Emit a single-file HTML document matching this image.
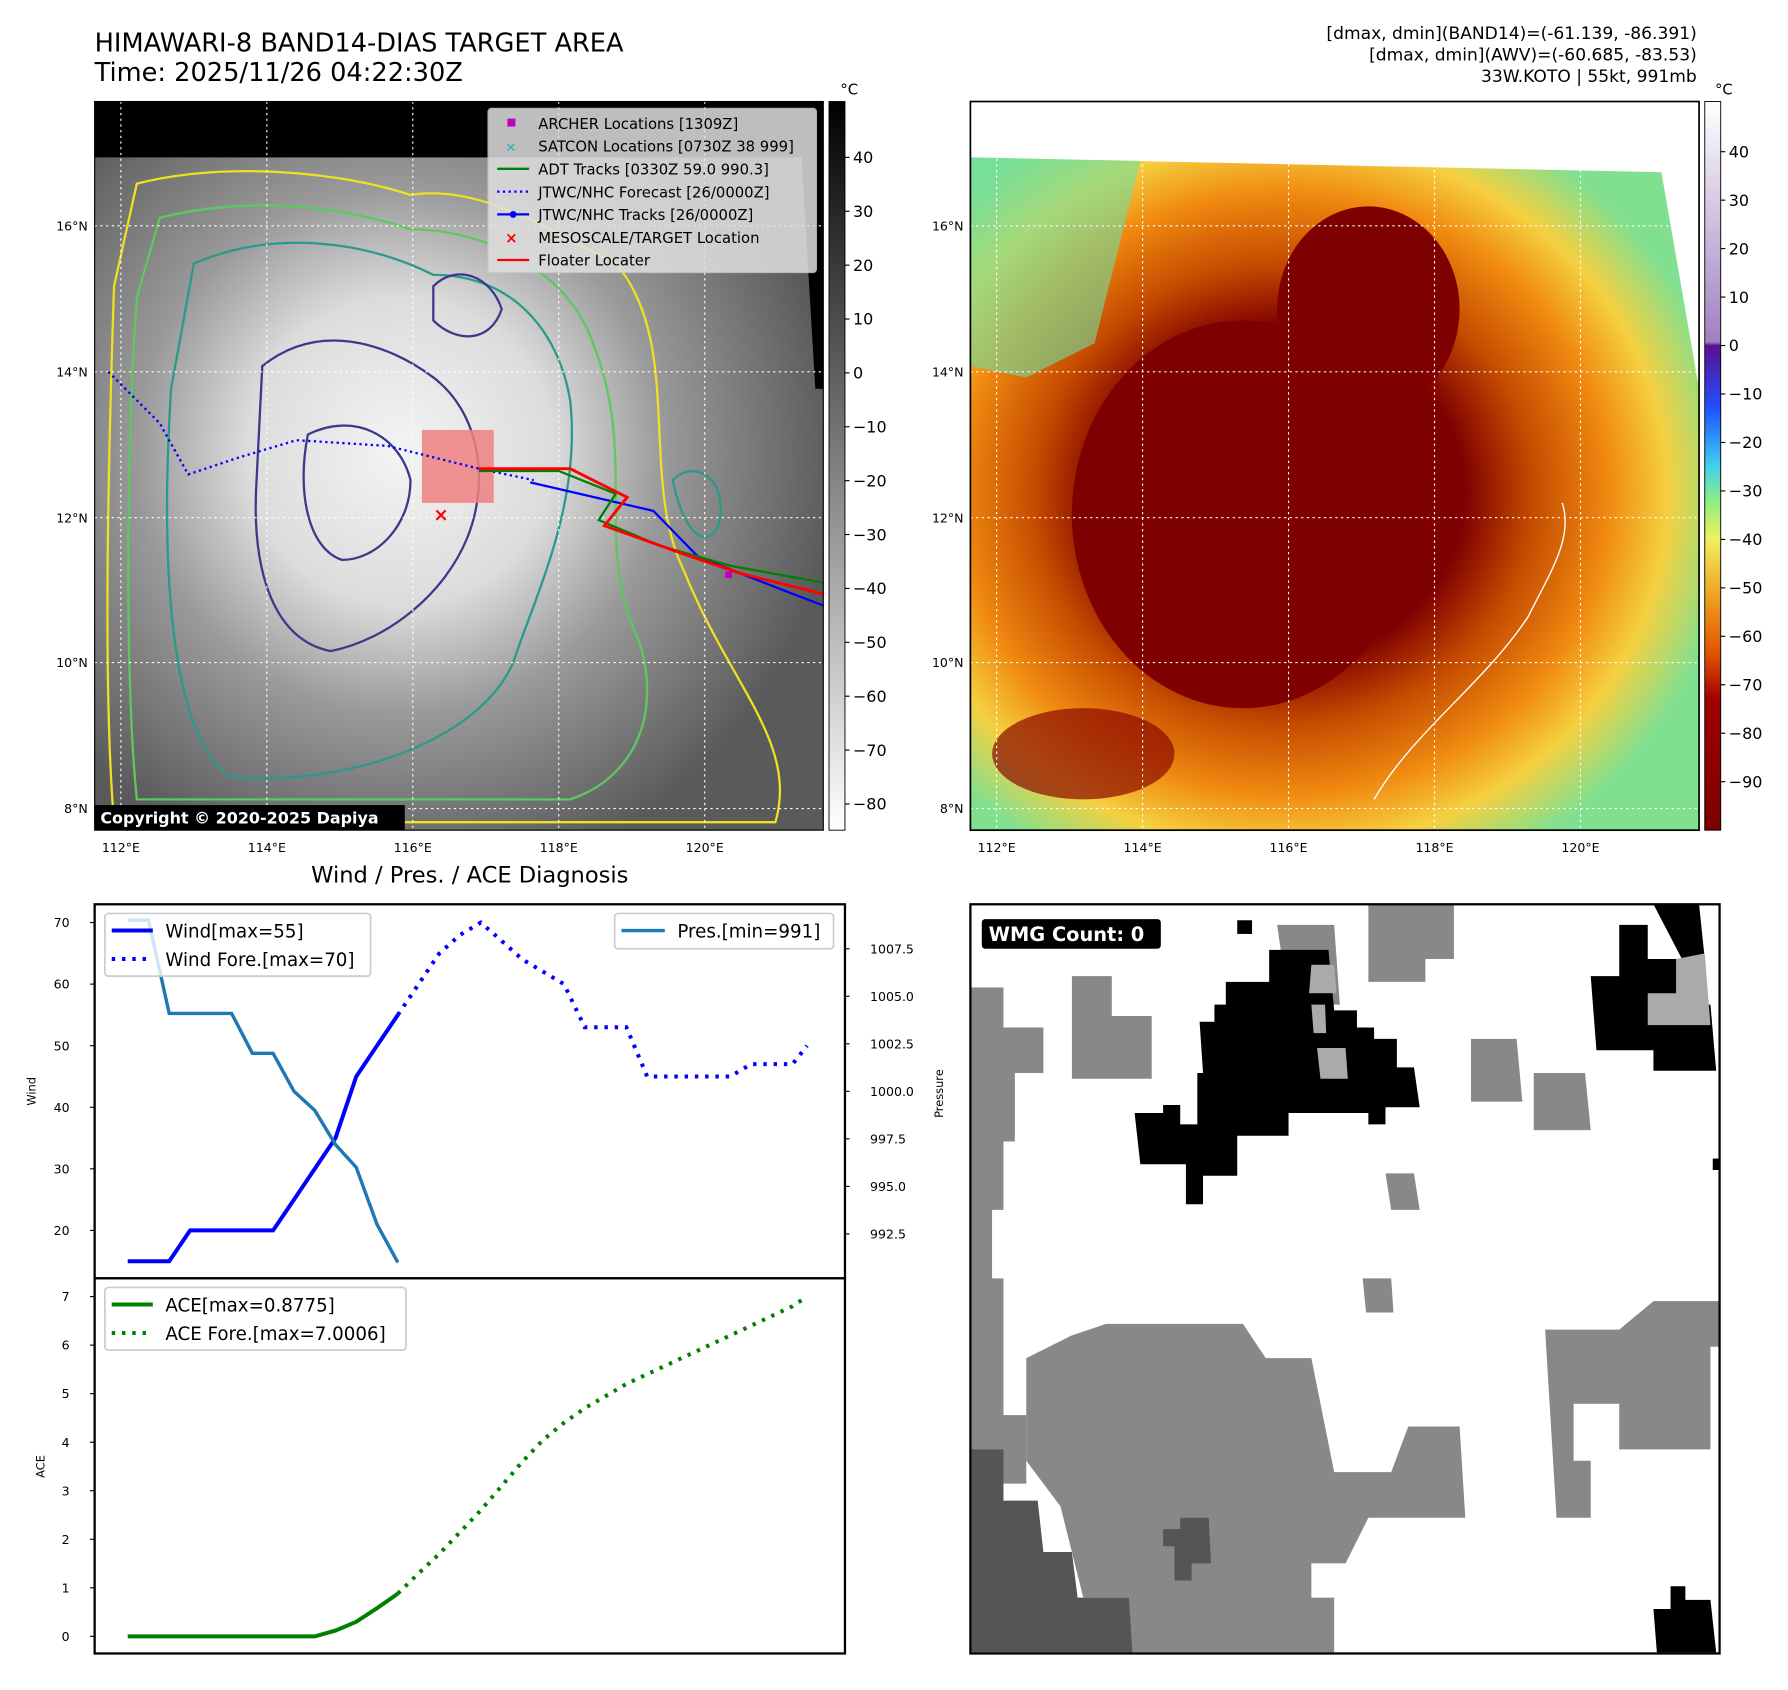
<!DOCTYPE html>
<html><head><meta charset="utf-8">
<style>
html,body{margin:0;padding:0;background:#fff;}
svg{display:block;font-family:"DejaVu Sans","Liberation Sans",sans-serif;}
</style></head>
<body>
<svg id="root" width="1788" height="1690" viewBox="0 0 1568 1480" xmlns="http://www.w3.org/2000/svg">
<defs>
<radialGradient id="irgray" cx="0.42" cy="0.48" r="0.6">
<stop offset="0" stop-color="#f4f4f4"/><stop offset="0.35" stop-color="#dcdcdc"/><stop offset="0.6" stop-color="#9a9a9a"/><stop offset="1" stop-color="#5a5a5a"/>
</radialGradient>
<radialGradient id="awv" cx="0.43" cy="0.5" r="0.62">
<stop offset="0" stop-color="#7a0000"/><stop offset="0.4" stop-color="#7f0000"/><stop offset="0.55" stop-color="#c44a00"/><stop offset="0.72" stop-color="#f08a10"/><stop offset="0.85" stop-color="#f5d040"/><stop offset="1" stop-color="#80e090"/>
</radialGradient>
<linearGradient id="cbgray" x1="0" y1="0" x2="0" y2="1"><stop offset="0" stop-color="#000"/><stop offset="1" stop-color="#fff"/></linearGradient>
<linearGradient id="cbawv" x1="0" y1="0" x2="0" y2="1">
<stop offset="0" stop-color="#ffffff"/><stop offset="0.33" stop-color="#a080c0"/><stop offset="0.335" stop-color="#5a1090"/>
<stop offset="0.42" stop-color="#2050ff"/><stop offset="0.5" stop-color="#40d0f0"/><stop offset="0.55" stop-color="#90f080"/>
<stop offset="0.6" stop-color="#f0f060"/><stop offset="0.68" stop-color="#f0a020"/><stop offset="0.76" stop-color="#e05000"/><stop offset="0.82" stop-color="#a00000"/><stop offset="1" stop-color="#7a0000"/>
</linearGradient>
</defs>

<!-- Titles -->
<text x="83" y="44" font-size="22.5">HIMAWARI-8 BAND14-DIAS TARGET AREA</text>
<text x="83" y="70" font-size="22.5">Time: 2025/11/26 04:22:30Z</text>
<g font-size="15" text-anchor="end">
<text x="1488" y="33">[dmax, dmin](BAND14)=(-61.139, -86.391)</text>
<text x="1488" y="52">[dmax, dmin](AWV)=(-60.685, -83.53)</text>
<text x="1488" y="71">33W.KOTO | 55kt, 991mb</text>
</g>

<!-- Left IR map -->
<g>
<rect x="83" y="88" width="639" height="639" fill="url(#irgray)"/>
<rect x="83" y="88" width="639" height="49" fill="#000"/>
<polygon points="700,88 722,88 722,340 715,340" fill="#000"/>
<g fill="none" stroke-width="2">
<path d="M120,160 C200,140 300,150 360,170 C420,160 480,200 540,230 C600,300 560,420 600,500 C640,600 700,650 680,720 L100,720 C90,600 95,400 100,250 Z" stroke="#f0e020"/>
<path d="M140,190 C220,170 300,180 360,200 C430,200 500,240 520,300 C560,400 520,480 560,560 C580,620 560,680 500,700 L120,700 C110,600 110,400 120,260 Z" stroke="#5cc860"/>
<path d="M170,230 C240,200 320,210 380,240 C450,240 490,290 500,350 C510,440 470,520 450,580 C420,650 300,690 200,680 C150,640 140,500 150,340 Z" stroke="#2a9a8a"/>
<path d="M230,320 C280,280 340,300 380,330 C420,360 430,420 410,470 C390,520 340,560 290,570 C240,560 220,500 225,420 Z" stroke="#3a3a8a"/>
<path d="M270,380 C310,360 350,380 360,420 C360,460 330,490 300,490 C270,480 260,430 270,380 Z" stroke="#3a3a8a"/>
<path d="M380,250 C400,230 430,240 440,270 C430,300 400,300 380,280 Z" stroke="#3a3a8a"/>
<path d="M590,420 C610,400 640,420 630,460 C620,480 600,470 590,420 Z" stroke="#2a9a8a"/>
</g>
<g stroke="#fff" stroke-dasharray="2,3" stroke-width="1">
<line x1="106" y1="88" x2="106" y2="727"/><line x1="234" y1="88" x2="234" y2="727"/><line x1="362" y1="88" x2="362" y2="727"/><line x1="490" y1="88" x2="490" y2="727"/><line x1="618" y1="88" x2="618" y2="727"/>
<line x1="83" y1="197" x2="722" y2="197"/><line x1="83" y1="325" x2="722" y2="325"/><line x1="83" y1="453" x2="722" y2="453"/><line x1="83" y1="580" x2="722" y2="580"/><line x1="83" y1="708" x2="722" y2="708"/>
</g>
<rect x="370" y="376" width="63" height="64" fill="#f08080" opacity="0.85"/>
<polyline points="95,325 140,370 165,415 210,400 260,385 340,390 420,410 468,420" fill="none" stroke="#0000ff" stroke-width="2" stroke-dasharray="2,3"/>
<polyline points="465,422 573,447 612,487 688,517 722,530" fill="none" stroke="#0000ff" stroke-width="2"/>
<polyline points="420,412 490,412 540,432 525,455 580,478 640,495 722,510" fill="none" stroke="#008000" stroke-width="2"/>
<polyline points="420,410 500,410 550,435 530,460 600,485 650,502 722,520" fill="none" stroke="#ff0000" stroke-width="2.5"/>
<text x="380" y="456" fill="#ff0000" font-size="16" font-weight="bold">×</text>
<rect x="636" y="500" width="6" height="6" fill="#c000c0"/>
<rect x="83" y="88" width="639" height="639" fill="none" stroke="#000" stroke-width="1"/>
<rect x="83" y="705" width="272" height="22" fill="#000"/>
<text x="88" y="721" fill="#fff" font-size="14" font-weight="bold">Copyright © 2020-2025 Dapiya</text>
<g font-size="13">
<rect x="428" y="94" width="288" height="144" fill="#e0e0e0" opacity="0.85" stroke="#ccc" rx="3"/>
<rect x="445" y="103" width="7" height="7" fill="#c000c0"/><text x="472" y="112">ARCHER Locations [1309Z]</text>
<text x="443" y="132" fill="#20b0b0" font-size="12">×</text><text x="472" y="132">SATCON Locations [0730Z 38 999]</text>
<line x1="436" y1="147" x2="464" y2="147" stroke="#008000" stroke-width="2"/><text x="472" y="152">ADT Tracks [0330Z 59.0 990.3]</text>
<line x1="436" y1="167" x2="464" y2="167" stroke="#0000ff" stroke-width="2" stroke-dasharray="2,3"/><text x="472" y="172">JTWC/NHC Forecast [26/0000Z]</text>
<line x1="436" y1="187" x2="464" y2="187" stroke="#0000ff" stroke-width="2"/><circle cx="450" cy="187" r="3" fill="#0000ff"/><text x="472" y="192">JTWC/NHC Tracks [26/0000Z]</text>
<text x="443" y="212" fill="#ff0000" font-size="13" font-weight="bold">×</text><text x="472" y="212">MESOSCALE/TARGET Location</text>
<line x1="436" y1="227" x2="464" y2="227" stroke="#ff0000" stroke-width="2"/><text x="472" y="232">Floater Locater</text>
</g>
</g>
<g font-size="11" text-anchor="end">
<text x="77" y="201">16°N</text><text x="77" y="329">14°N</text><text x="77" y="457">12°N</text><text x="77" y="584">10°N</text><text x="77" y="712">8°N</text>
</g>
<g font-size="11" text-anchor="middle">
<text x="106" y="746">112°E</text><text x="234" y="746">114°E</text><text x="362" y="746">116°E</text><text x="490" y="746">118°E</text><text x="618" y="746">120°E</text>
</g>
<g>
<rect x="727" y="88" width="14" height="639" fill="url(#cbgray)" stroke="#000" stroke-width="0.8"/>
<text x="737" y="82" font-size="13">°C</text>
<g font-size="14" id="cb1"></g>
</g>

<!-- Right AWV map -->
<g>
<rect x="851" y="88" width="639" height="639" fill="#fff"/>
<polygon points="851,137 1457,150 1490,340 1490,727 851,727" fill="url(#awv)"/>
<polygon points="851,137 1000,140 960,300 900,330 851,320" fill="#70e0a0" opacity="0.6"/>
<ellipse cx="1090" cy="450" rx="150" ry="170" fill="#7f0000"/>
<ellipse cx="1200" cy="270" rx="80" ry="90" fill="#7f0000"/>
<ellipse cx="950" cy="660" rx="80" ry="40" fill="#8a0800" opacity="0.7"/>
<g stroke="#fff" stroke-dasharray="2,3" stroke-width="1">
<line x1="874" y1="88" x2="874" y2="727"/><line x1="1002" y1="88" x2="1002" y2="727"/><line x1="1130" y1="88" x2="1130" y2="727"/><line x1="1258" y1="88" x2="1258" y2="727"/><line x1="1386" y1="88" x2="1386" y2="727"/>
<line x1="851" y1="197" x2="1490" y2="197"/><line x1="851" y1="325" x2="1490" y2="325"/><line x1="851" y1="453" x2="1490" y2="453"/><line x1="851" y1="580" x2="1490" y2="580"/><line x1="851" y1="708" x2="1490" y2="708"/>
</g>
<path d="M1205,700 C1240,640 1300,600 1340,540 C1360,500 1380,470 1370,440" fill="none" stroke="#fff" stroke-width="1.2"/>
<rect x="851" y="88" width="639" height="639" fill="none" stroke="#000" stroke-width="1.5"/>
</g>
<g font-size="11" text-anchor="end">
<text x="845" y="201">16°N</text><text x="845" y="329">14°N</text><text x="845" y="457">12°N</text><text x="845" y="584">10°N</text><text x="845" y="712">8°N</text>
</g>
<g font-size="11" text-anchor="middle">
<text x="874" y="746">112°E</text><text x="1002" y="746">114°E</text><text x="1130" y="746">116°E</text><text x="1258" y="746">118°E</text><text x="1386" y="746">120°E</text>
</g>
<g>
<rect x="1495" y="88" width="14" height="639" fill="url(#cbawv)" stroke="#000" stroke-width="0.8"/>
<text x="1504" y="82" font-size="13">°C</text>
<g font-size="14" id="cb2"></g>
</g>

<text x="412" y="773" font-size="19.8" text-anchor="middle">Wind / Pres. / ACE Diagnosis</text>
<g id="wind-chart"></g>
<g id="ace-chart"></g>

<!-- WMG panel -->
<g>
<rect x="851" y="792" width="657" height="657" fill="#fff"/>
<g fill="#888">
<polygon points="851,865 880,865 880,900 915,900 915,940 890,940 890,1000 880,1000 880,1060 870,1060 870,1120 880,1120 880,1240 900,1240 900,1300 870,1300 851,1300"/>
<polygon points="940,855 975,855 975,890 1010,890 1010,945 940,945"/>
<polygon points="1200,792 1275,792 1275,840 1250,840 1250,860 1200,860"/>
<polygon points="1120,810 1170,810 1175,880 1130,880"/>
<polygon points="1290,910 1330,910 1335,965 1290,965"/>
<polygon points="1345,940 1390,940 1395,990 1345,990"/>
<polygon points="1215,1028 1240,1028 1245,1060 1220,1060"/>
<polygon points="1010,1160 1090,1160 1110,1190 1150,1190 1170,1290 1220,1290 1235,1250 1280,1250 1285,1330 1200,1330 1180,1370 1150,1370 1150,1400 1170,1400 1170,1448 990,1448 990,1400 950,1400 930,1320 900,1280 900,1190 940,1170 970,1160"/>
<polygon points="1355,1165 1420,1165 1450,1140 1508,1140 1508,1180 1500,1180 1500,1270 1420,1270 1420,1230 1380,1230 1380,1280 1395,1280 1395,1330 1365,1330"/>
<polygon points="1195,1120 1220,1120 1222,1150 1198,1150"/>
</g>
<polygon points="851,1270 880,1270 880,1315 910,1315 915,1360 940,1360 945,1400 990,1400 993,1448 851,1448" fill="#555"/>
<polygon points="1035,1330 1060,1330 1062,1370 1045,1370 1045,1385 1030,1385 1030,1355 1020,1355 1020,1340 1035,1340" fill="#555"/>
<g fill="#000">
<polygon points="1113,832 1165,832 1170,885 1190,885 1190,900 1205,900 1205,910 1225,910 1225,935 1240,935 1245,970 1215,970 1215,985 1200,985 1200,975 1130,975 1130,995 1085,995 1085,1030 1055,1030 1055,1055 1040,1055 1040,1020 1000,1020 995,975 1020,975 1020,968 1035,968 1035,985 1050,985 1050,940 1055,940 1052,895 1065,895 1065,880 1075,880 1075,860 1113,860"/>
<polygon points="1420,810 1445,810 1445,840 1470,840 1470,880 1500,880 1505,938 1450,938 1450,920 1400,920 1395,855 1420,855"/>
<polygon points="1450,792 1490,792 1495,840 1475,840"/>
<polygon points="1085,806 1098,806 1098,818 1085,818"/>
<polygon points="1465,1390 1478,1390 1478,1402 1500,1402 1505,1448 1453,1448 1450,1410 1465,1410"/>
<polygon points="1502,1015 1508,1015 1508,1025 1502,1025"/>
</g>
<g fill="#aaa">
<polygon points="1150,845 1170,845 1172,870 1148,870"/>
<polygon points="1155,918 1180,918 1182,945 1158,945"/>
<polygon points="1150,880 1162,880 1163,905 1152,905"/>
<polygon points="1470,840 1495,835 1500,898 1445,898 1445,870 1470,870"/>
</g>
<rect x="851" y="792" width="657" height="657" fill="none" stroke="#000" stroke-width="2"/>
<rect x="861" y="805" width="157" height="26" rx="3" fill="#000"/>
<text x="867" y="824" fill="#fff" font-size="17" font-weight="bold">WMG Count: 0</text>
</g>

<script>
var NS='http://www.w3.org/2000/svg';
var windTau=[0,1,2,3,4,5,6,7,8,9,10,11,12,13];
var windObs=[15,15,15,20,20,20,20,20,25,30,35,45,50,55];
var foreTau=[13,14,15,16,17,18,19,20,21,22,23,24,25,26,27,28,29,30,31,32,32.7];
var windFore=[55,60,65,68,70,67,64,62,60,53,53,53,45,45,45,45,45,47,47,47,50];
var presObs=[1009,1009,1004.1,1004.1,1004.1,1004.1,1002,1002,1000,999,997.2,996,993,991];
var aceObs=[0,0,0,0,0,0,0,0,0,0,0.12,0.3,0.58,0.88];
var aceFore=[0.88,1.3,1.7,2.15,2.6,3.1,3.6,4.05,4.4,4.7,4.95,5.2,5.4,5.6,5.8,6.0,6.2,6.4,6.6,6.8,7.0];
var windTicks=[20,30,40,50,60,70];
var presTicks=[992.5,995.0,997.5,1000.0,1002.5,1005.0,1007.5];
var aceTicks=[0,1,2,3,4,5,6,7];
var cb1Ticks=[40,30,20,10,0,-10,-20,-30,-40,-50,-60,-70,-80];
var cb2Ticks=[40,30,20,10,0,-10,-20,-30,-40,-50,-60,-70,-80,-90];

function el(tag,attrs,parent){var e=document.createElementNS(NS,tag);for(var k in attrs)e.setAttribute(k,attrs[k]);parent.appendChild(e);return e;}
function xS(t){return 112+t*18.22;}
function yW(v){return 808+(70-v)*5.4;}
function yP(v){return 831+(1007.5-v)*16.67;}
function yA(v){return 1434-v*42.57;}
function cb1Y(v){return 137+(40-v)*4.725;}
function cb2Y(v){return 132+(40-v)*4.25;}

var cb1=document.getElementById('cb1');
cb1Ticks.forEach(function(v){
  var l=el('line',{x1:741,x2:745,y1:cb1Y(v),y2:cb1Y(v),stroke:'#000'},cb1);
  
  
  var t=el('text',{x:748,y:cb1Y(v)+5},cb1);t.textContent=(v<0?'\u2212'+(-v):v);
  
  
});
var cb2=document.getElementById('cb2');
cb2Ticks.forEach(function(v){
  var l=el('line',{x1:1509,x2:1513,y1:cb2Y(v),y2:cb2Y(v),stroke:'#000'},cb2);
  
  
  var t=el('text',{x:1516,y:cb2Y(v)+5},cb2);t.textContent=(v<0?'\u2212'+(-v):v);
  
  
});

function pts(xs,ys,fy){return xs.map(function(t,i){return xS(t).toFixed(1)+','+fy(ys[i]).toFixed(1);}).join(' ');}

var wc=document.getElementById('wind-chart');
var f=el('rect',{x:83,y:792,width:658,height:328,fill:'#fff',stroke:'#000','stroke-width':2},wc);


windTicks.forEach(function(v){
  el('line',{x1:79,x2:83,y1:yW(v),y2:yW(v),stroke:'#000'},wc);
  var t=el('text',{x:61,y:yW(v)+4,'font-size':11,'text-anchor':'end'},wc);t.textContent=v;
  
  
});
presTicks.forEach(function(v){
  el('line',{x1:741,x2:745,y1:yP(v),y2:yP(v),stroke:'#000'},wc);
  var t=el('text',{x:763,y:yP(v)+4,'font-size':11},wc);t.textContent=v.toFixed(1);
  
  
});
var yl=el('text',{x:0,y:0,'font-size':10,'text-anchor':'middle',transform:'translate(31,956) rotate(-90)'},wc);yl.textContent='Wind';


var pl=el('text',{x:0,y:0,'font-size':10,'text-anchor':'middle',transform:'translate(827,958) rotate(-90)'},wc);pl.textContent='Pressure';


var lg=el('g',{},wc);


el('rect',{x:92,y:800,width:233,height:55,rx:3,fill:'#fff','fill-opacity':0.8,stroke:'#ccc','stroke-width':1.5},lg);
var lp=el('g',{},wc);


el('rect',{x:539,y:800,width:192,height:31,rx:3,fill:'#fff','fill-opacity':0.8,stroke:'#ccc','stroke-width':1.5},lp);
var l1=el('polyline',{points:pts(windTau,windObs,yW),fill:'none',stroke:'#0000ff','stroke-width':3.5},wc);


var l2=el('polyline',{points:pts(foreTau,windFore,yW),fill:'none',stroke:'#0000ff','stroke-width':3.5,'stroke-dasharray':'3,6'},wc);


var l3=el('polyline',{points:pts(windTau,presObs,yP),fill:'none',stroke:'#1f77b4','stroke-width':3},wc);


el('line',{x1:98,x2:134,y1:815,y2:815,stroke:'#0000ff','stroke-width':3.5},lg);
el('line',{x1:98,x2:134,y1:840,y2:840,stroke:'#0000ff','stroke-width':3.5,'stroke-dasharray':'3,6'},lg);
var a=el('text',{x:145,y:821,'font-size':16},lg);a.textContent='Wind[max=55]';
var b=el('text',{x:145,y:846,'font-size':16},lg);b.textContent='Wind Fore.[max=70]';
el('line',{x1:545,x2:583,y1:815,y2:815,stroke:'#1f77b4','stroke-width':3},lp);
var c=el('text',{x:594,y:821,'font-size':16},lp);c.textContent='Pres.[min=991]';
wc.appendChild(lg);wc.appendChild(lp);

var ac=document.getElementById('ace-chart');
var f2=el('rect',{x:83,y:1120,width:658,height:329,fill:'#fff',stroke:'#000','stroke-width':2},ac);


aceTicks.forEach(function(v){
  el('line',{x1:79,x2:83,y1:yA(v),y2:yA(v),stroke:'#000'},ac);
  var t=el('text',{x:61,y:yA(v)+4,'font-size':11,'text-anchor':'end'},ac);t.textContent=v;
  
  
});
var al=el('text',{x:0,y:0,'font-size':10,'text-anchor':'middle',transform:'translate(39,1285) rotate(-90)'},ac);al.textContent='ACE';


var l4=el('polyline',{points:pts(windTau,aceObs,yA),fill:'none',stroke:'#008000','stroke-width':3.5},ac);


var l5=el('polyline',{points:pts(foreTau,aceFore,yA),fill:'none',stroke:'#008000','stroke-width':3.5,'stroke-dasharray':'3,6'},ac);


var la=el('g',{},ac);


el('rect',{x:92,y:1128,width:264,height:55,rx:3,fill:'#fff','fill-opacity':0.8,stroke:'#ccc','stroke-width':1.5},la);
el('line',{x1:98,x2:134,y1:1143,y2:1143,stroke:'#008000','stroke-width':3.5},la);
el('line',{x1:98,x2:134,y1:1168,y2:1168,stroke:'#008000','stroke-width':3.5,'stroke-dasharray':'3,6'},la);
var d=el('text',{x:145,y:1149,'font-size':16},la);d.textContent='ACE[max=0.8775]';
var e2=el('text',{x:145,y:1174,'font-size':16},la);e2.textContent='ACE Fore.[max=7.0006]';
</script>
</svg>
</body></html>
